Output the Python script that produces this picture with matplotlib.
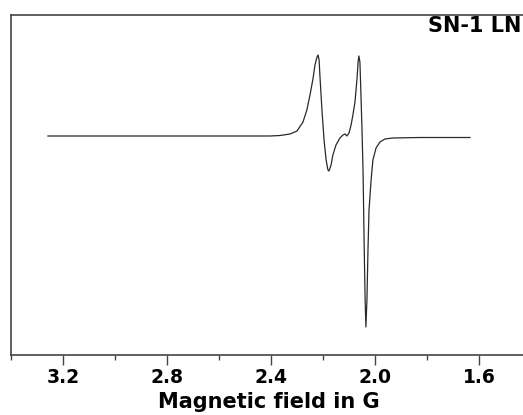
import matplotlib
matplotlib.use("Agg")
import matplotlib.pyplot as plt
from matplotlib.ticker import MultipleLocator

plt.rcParams['font.family'] = ['DejaVu Sans']

field = [3.258, 2.481, 2.404, 2.365, 2.327, 2.300, 2.277, 2.262, 2.250, 2.238,
         2.231, 2.223, 2.219, 2.215, 2.212, 2.204, 2.196, 2.188, 2.181, 2.177,
         2.169, 2.162, 2.150, 2.135, 2.123, 2.115, 2.108, 2.100, 2.092, 2.085,
         2.077, 2.069, 2.065, 2.062, 2.058, 2.054, 2.050, 2.046, 2.042, 2.038,
         2.035, 2.031, 2.027, 2.023, 2.015, 2.008, 1.996, 1.981, 1.962, 1.931,
         1.827, 1.635]
signal = [0, 0, 0, 0.5, 2, 5, 14, 26, 41, 58,
          71, 79, 81, 76, 61, 26, -4, -24, -34, -35,
          -29, -19, -9, -2, 1, 2, 0, 3, 11, 21,
          34, 58, 74, 80, 74, 41, 6, -34, -104, -164,
          -191, -164, -114, -74, -44, -24, -12, -6, -3, -2,
          -1.5, -1.5]

title = "SN-1 LN"
xlabel = "Magnetic field in G"

W, H = 523, 415
fig = plt.figure(figsize=(W / 100, H / 100), dpi=100)
left, right, top, bottom = 11, 527, 15, 355
ax = fig.add_axes([left / W, (H - bottom) / H, (right - left) / W, (bottom - top) / H])

ax.plot(field, signal, color='#2a2a2a', lw=0.9)

ax.set_xlim(3.4, 3.4 - (right - left) / 260)
ax.set_ylim(-219, 121)

ax.xaxis.set_major_locator(MultipleLocator(0.4))
ax.xaxis.set_minor_locator(MultipleLocator(0.2))
ax.xaxis.set_major_formatter(matplotlib.ticker.FormatStrFormatter('%.1f'))
ax.tick_params(axis='x', which='major', direction='out', length=7, width=1,
               color='#444444', labelsize=13.5, pad=2)
ax.tick_params(axis='x', which='minor', direction='out', length=3.5, width=1,
               color='#444444')
for lab in ax.get_xticklabels():
    lab.set_fontweight('bold')
ax.set_yticks([])

ax.spines['right'].set_visible(False)
for s in ['left', 'top', 'bottom']:
    ax.spines[s].set_color('#444444')
    ax.spines[s].set_linewidth(1.2)

ax.set_xlabel(xlabel, fontsize=15, fontweight='bold', labelpad=4)

fig.text(521 / W, 1 - 25.5 / H, title, ha='right', va='center',
         fontsize=15, fontweight='bold')

fig.savefig('out.png', dpi=100)
